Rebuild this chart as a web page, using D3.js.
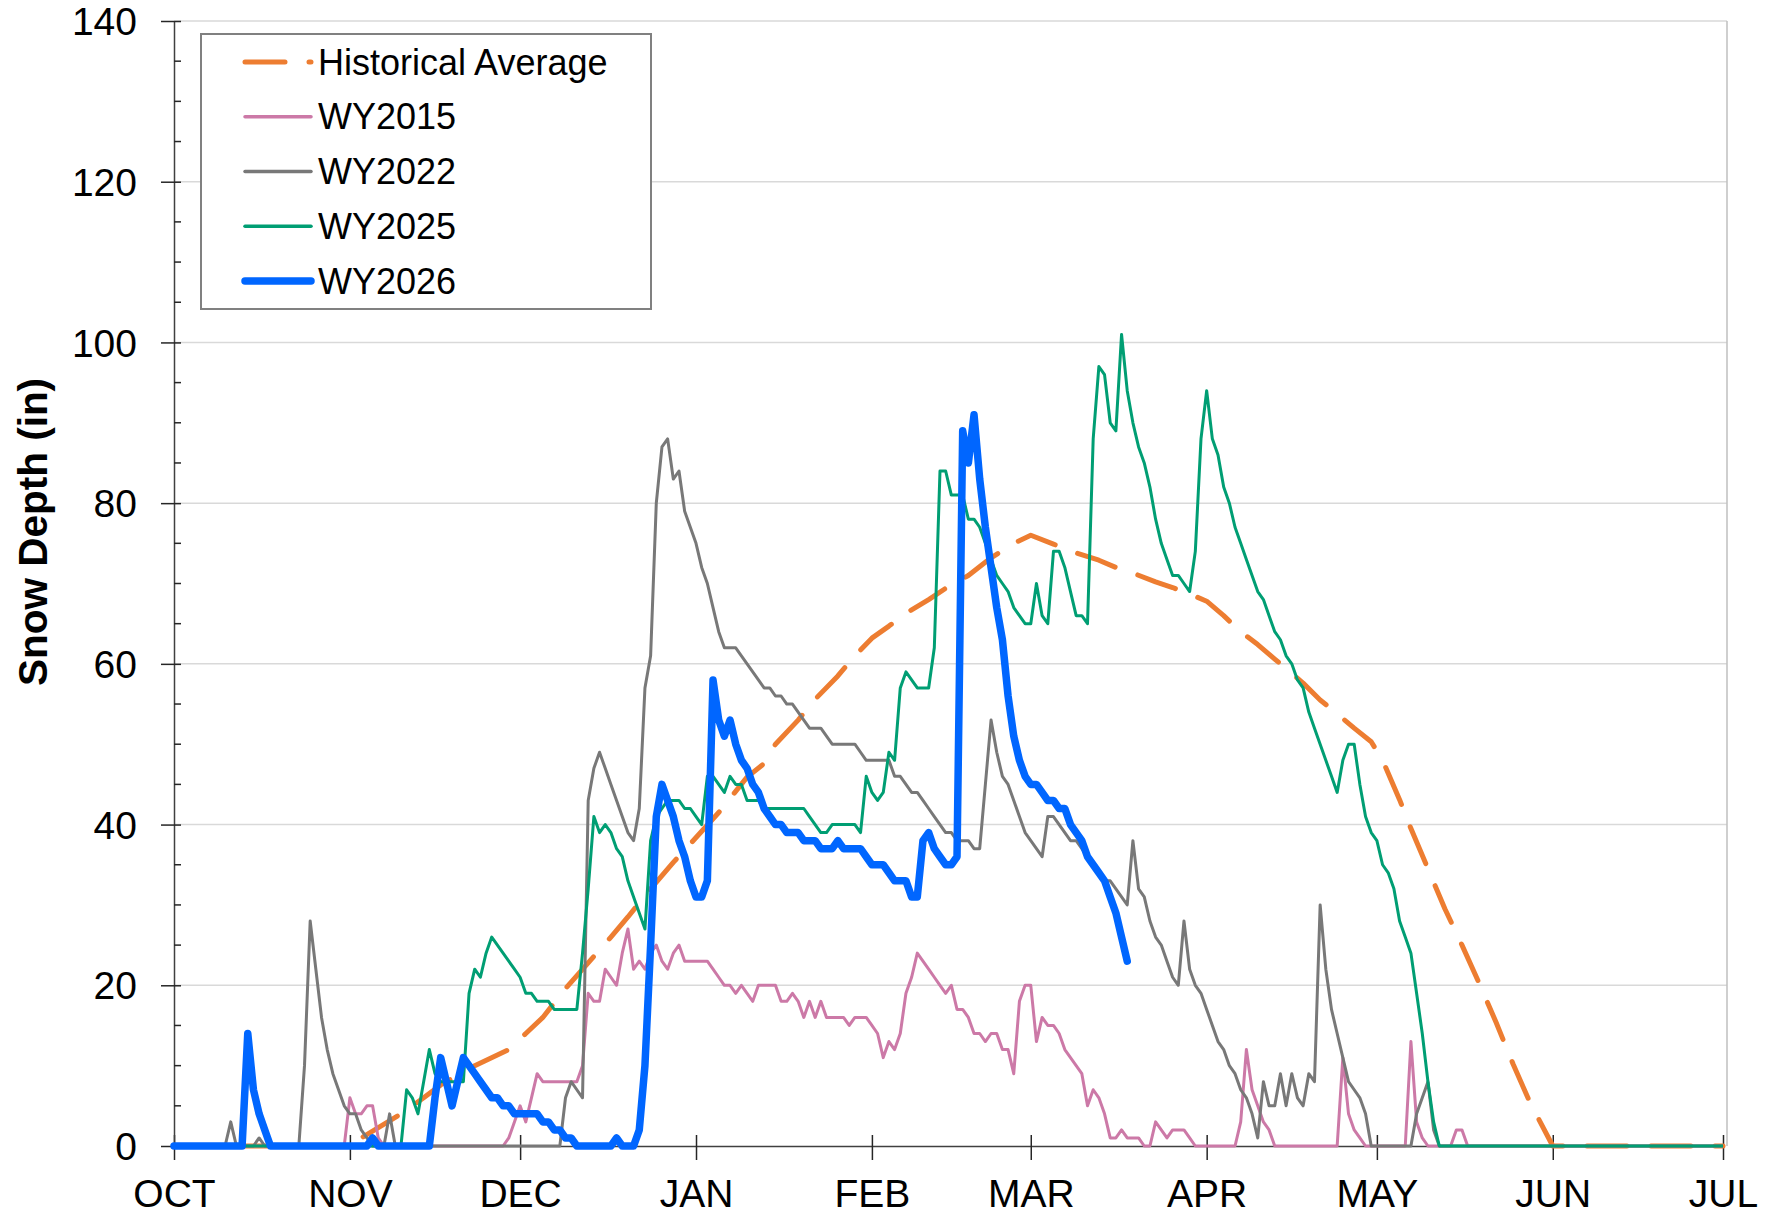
<!DOCTYPE html>
<html>
<head>
<meta charset="utf-8">
<script src="https://cdn.jsdelivr.net/npm/d3@7"></script>
<style>
  html, body { margin: 0; padding: 0; background: #fff; }
  svg text { font-family: "Liberation Sans", Arial, sans-serif; fill: #000; }
</style>
</head>
<body>
<svg id="chart" width="1773" height="1216"></svg>
<script>
// water year axis: Oct 1 -> Jul 1, points are [day since Oct 1, snow depth in]
const monthLabels = ["OCT", "NOV", "DEC", "JAN", "FEB", "MAR", "APR", "MAY", "JUN", "JUL"];
const yTicks = [0, 20, 40, 60, 80, 100, 120, 140];

const historicalAverage = [
  [0,0],[31,0],[33,1],[40,4],[44,6],[47,7.6],[53,10],[59,12],[62,14],[65,16],[69,19.6],[74,23.6],
  [77,26],[80,28.5],[84,32],[88,35.3],[91,37.6],[96,41.5],[101,45.9],[104,47.6],[106,50],[110,53],
  [113,55.6],[117,58.5],[120,61],[123,63.2],[126,64.7],[129,66.3],[133,68],[136,69.4],[140,71],
  [144,73.2],[148,75],[151,76],[155,74.9],[159,73.8],[163,72.9],[166,72],[169,71.3],[173,70.2],
  [176,69.5],[180,68.4],[182,67.8],[185,66],[188,64],[191,62.4],[194,60.6],[197,58.8],[199,57.6],
  [202,55.5],[205,53.8],[208,52],[211,50.3],[213,48],[216,43.1],[218,39.5],[221,34.5],[224,29.5],
  [227,25],[230,20.3],[233,15.4],[236,10.2],[239,5.4],[243,0],[273,0]
];

const wy2015 = [
  [0,0],[30,0],[31,6],[32,4],[33,4],[34,5],[35,5],[36,1],[37,0],[58,0],[59,1],[60,3],[61,5],[62,3],
  [63,6],[64,9],[65,8],[71,8],[72,10],[73,19],[74,18],[75,18],[76,22],[77,21],[78,20],[79,24],[80,27],
  [81,22],[82,23],[83,22],[84,24],[85,25],[86,23],[87,22],[88,24],[89,25],[90,23],[94,23],[95,22],
  [96,21],[97,20],[98,20],[99,19],[100,20],[101,19],[102,18],[103,20],[106,20],[107,18],[108,18],
  [109,19],[110,18],[111,16],[112,18],[113,16],[114,18],[115,16],[118,16],[119,15],[120,16],[122,16],
  [123,15],[124,14],[125,11],[126,13],[127,12],[128,14],[129,19],[130,21],[131,24],[132,23],[133,22],
  [134,21],[135,20],[136,19],[137,20],[138,17],[139,17],[140,16],[141,14],[142,14],[143,13],[144,14],
  [145,14],[146,12],[147,12],[148,9],[149,18],[150,20],[151,20],[152,13],[153,16],[154,15],[155,15],
  [156,14],[157,12],[158,11],[159,10],[160,9],[161,5],[162,7],[163,6],[164,4],[165,1],[166,1],[167,2],
  [168,1],[170,1],[171,0],[172,0],[173,3],[174,2],[175,1],[176,2],[178,2],[179,1],[180,0],[187,0],
  [188,3],[189,12],[190,7],[191,5],[192,3],[193,2],[194,0],[205,0],[206,11],[207,4],[208,2],[209,1],
  [210,0],[217,0],[218,13],[219,3],[220,1],[221,0],[225,0],[226,2],[227,2],[228,0],[273,0]
];

const wy2022 = [
  [0,0],[9,0],[10,3],[11,0],[14,0],[15,1],[16,0],[22,0],[23,10],[24,28],[25,22],[26,16],[27,12],
  [28,9],[29,7],[30,5],[31,4],[32,4],[33,2],[34,1],[35,0],[37,0],[38,4],[39,0],[68,0],[69,6],[70,8],
  [71,7],[72,6],[73,43],[74,47],[75,49],[76,47],[77,45],[78,43],[79,41],[80,39],[81,38],[82,42],
  [83,57],[84,61],[85,80],[86,87],[87,88],[88,83],[89,84],[90,79],[91,77],[92,75],[93,72],[94,70],
  [95,67],[96,64],[97,62],[99,62],[100,61],[101,60],[102,59],[103,58],[104,57],[105,57],[106,56],
  [107,56],[108,55],[109,55],[110,54],[111,53],[112,52],[114,52],[115,51],[116,50],[120,50],[121,49],
  [122,48],[126,48],[127,46],[128,46],[129,45],[130,44],[131,44],[132,43],[133,42],[134,41],[135,40],
  [136,39],[137,39],[138,38],[140,38],[141,37],[142,37],[143,45],[144,53],[145,49],[146,46],[147,45],
  [148,43],[149,41],[150,39],[151,38],[152,37],[153,36],[154,41],[155,41],[156,40],[157,39],[158,38],
  [159,38],[160,37],[161,36],[162,35],[163,34],[164,33],[165,33],[166,32],[167,31],[168,30],[169,38],
  [170,32],[171,31],[172,28],[173,26],[174,25],[175,23],[176,21],[177,20],[178,28],[179,22],[180,20],
  [181,19],[182,17],[183,15],[184,13],[185,12],[186,10],[187,9],[188,7],[189,6],[190,4],[191,1],
  [192,8],[193,5],[194,5],[195,9],[196,5],[197,9],[198,6],[199,5],[200,9],[201,8],[202,30],[203,22],
  [204,17],[205,14],[206,11],[207,8],[208,7],[209,6],[210,4],[211,0],[218,0],[219,4],[220,6],[221,8],
  [222,2],[223,0],[273,0]
];

const wy2025 = [
  [0,0],[40,0],[41,7],[42,6],[43,4],[44,8],[45,12],[46,9],[47,8],[51,8],[52,19],[53,22],[54,21],
  [55,24],[56,26],[57,25],[58,24],[59,23],[60,22],[61,21],[62,19],[63,19],[64,18],[66,18],[67,17],
  [71,17],[72,24],[73,32],[74,41],[75,39],[76,40],[77,39],[78,37],[79,36],[80,33],[81,31],[82,29],
  [83,27],[84,38],[85,41],[86,42],[87,43],[89,43],[90,42],[91,42],[92,41],[93,40],[94,46],[95,46],
  [96,45],[97,44],[98,46],[99,45],[100,45],[101,43],[103,43],[104,42],[111,42],[112,41],[113,40],
  [114,39],[115,39],[116,40],[120,40],[121,39],[122,46],[123,44],[124,43],[125,44],[126,49],[127,48],
  [128,57],[129,59],[130,58],[131,57],[133,57],[134,62],[135,84],[136,84],[137,81],[139,81],[140,78],
  [141,78],[142,77],[143,75],[144,73],[145,71],[146,70],[147,69],[148,67],[149,66],[150,65],[151,65],
  [152,70],[153,66],[154,65],[155,74],[156,74],[157,72],[158,69],[159,66],[160,66],[161,65],[162,88],
  [163,97],[164,96],[165,90],[166,89],[167,101],[168,94],[169,90],[170,87],[171,85],[172,82],[173,78],
  [174,75],[175,73],[176,71],[177,71],[178,70],[179,69],[180,74],[181,88],[182,94],[183,88],[184,86],
  [185,82],[186,80],[187,77],[188,75],[189,73],[190,71],[191,69],[192,68],[193,66],[194,64],[195,63],
  [196,61],[197,60],[198,58],[199,57],[200,54],[201,52],[202,50],[203,48],[204,46],[205,44],[206,48],
  [207,50],[208,50],[209,45],[210,41],[211,39],[212,38],[213,35],[214,34],[215,32],[216,28],[217,26],
  [218,24],[219,19],[220,14],[221,8],[222,3],[223,0],[273,0]
];

const wy2026 = [
  [0,0],[12,0],[13,14],[14,7],[15,4],[16,2],[17,0],[34,0],[35,1],[36,0],[45,0],[46,6],[47,11],[48,8],
  [49,5],[50,8],[51,11],[52,10],[53,9],[54,8],[55,7],[56,6],[57,6],[58,5],[59,5],[60,4],[64,4],[65,3],
  [66,3],[67,2],[68,2],[69,1],[70,1],[71,0],[77,0],[78,1],[79,0],[81,0],[82,2],[83,10],[84,25],[85,41],
  [86,45],[87,43],[88,41],[89,38],[90,36],[91,33],[92,31],[93,31],[94,33],[95,58],[96,53],[97,51],
  [98,53],[99,50],[100,48],[101,47],[102,45],[103,44],[104,42],[105,41],[106,40],[107,40],[108,39],
  [109,39],[110,39],[111,38],[112,38],[113,38],[114,37],[115,37],[116,37],[117,38],[118,37],[119,37],
  [120,37],[121,37],[122,36],[123,35],[124,35],[125,35],[126,34],[127,33],[128,33],[129,33],[130,31],
  [131,31],[132,38],[133,39],[134,37],[135,36],[136,35],[137,35],[138,36],[139,89],[140,85],[141,91],
  [142,83],[143,77],[144,72],[145,67],[146,63],[147,56],[148,51],[149,48],[150,46],[151,45],[152,45],
  [153,44],[154,43],[155,43],[156,42],[157,42],[158,40],[159,39],[160,38],[161,36],[162,35],[163,34],
  [164,33],[165,31],[166,29],[167,26],[168,23]
];

const seriesNames = ["Historical Average", "WY2015", "WY2022", "WY2025", "WY2026"];
const seriesData = [historicalAverage, wy2015, wy2022, wy2025, wy2026];
const seriesStyle = [
  { color: "#ed7d31", width: 5, dash: "40,24", cap: "round" },
  { color: "#cc79a7", width: 3, dash: null, cap: "butt" },
  { color: "#787878", width: 3, dash: null, cap: "butt" },
  { color: "#009e73", width: 3, dash: null, cap: "butt" },
  { color: "#0066ff", width: 7.5, dash: null, cap: "round" }
];

const W = 1773, H = 1216;
const plot = { left: 174, right: 1723, top: 21, bottom: 1146, border: 1727 };

const svg = d3.select("#chart");
svg.append("rect").attr("width", W).attr("height", H).attr("fill", "#fff");

const start = new Date(Date.UTC(2025, 9, 1));
const end = new Date(Date.UTC(2026, 6, 1));
const x = d3.scaleUtc().domain([start, end]).range([plot.left, plot.right]);
const y = d3.scaleLinear().domain([0, 140]).range([plot.bottom, plot.top]);
const dayToDate = d => d3.utcDay.offset(start, d);
const monthTicks = d3.utcMonth.range(start, d3.utcDay.offset(end, 1));

// gridlines + right frame
svg.append("g").selectAll("line").data(yTicks.filter(v => v > 0)).join("line")
  .attr("x1", plot.left).attr("x2", plot.border)
  .attr("y1", d => y(d)).attr("y2", d => y(d))
  .attr("stroke", "#d9d9d9").attr("stroke-width", 1.5);
svg.append("line")
  .attr("x1", plot.border).attr("x2", plot.border)
  .attr("y1", plot.top).attr("y2", plot.bottom)
  .attr("stroke", "#bfbfbf").attr("stroke-width", 1.5);

// x axis
const gx = svg.append("g")
  .attr("transform", `translate(0,${plot.bottom})`)
  .call(d3.axisBottom(x).tickValues(monthTicks).tickFormat((d, i) => monthLabels[i]).tickSizeOuter(0))
  .attr("font-family", null).attr("font-size", null);
gx.select(".domain").attr("stroke", "#404040").attr("stroke-width", 1.5);
gx.selectAll(".tick line").attr("y1", -11).attr("y2", 14).attr("stroke", "#262626").attr("stroke-width", 1.5);
gx.selectAll(".tick text").attr("y", 61).attr("dy", null).attr("font-size", 39).attr("fill", "#000");

// y axis
const gy = svg.append("g")
  .attr("transform", `translate(${plot.left},0)`)
  .call(d3.axisLeft(y).tickValues(yTicks).tickSizeOuter(0))
  .attr("font-family", null).attr("font-size", null);
gy.select(".domain").attr("stroke", "#404040").attr("stroke-width", 1.5);
gy.selectAll(".tick line").attr("x1", -13).attr("x2", 7).attr("stroke", "#262626").attr("stroke-width", 1.5);
gy.selectAll(".tick text").attr("x", -37).attr("dy", "0.35em").attr("font-size", 39).attr("fill", "#000");

const minorTicks = d3.range(5, 140, 5).filter(v => v % 20 !== 0);
svg.append("g").selectAll("line").data(minorTicks).join("line")
  .attr("x1", plot.left).attr("x2", plot.left + 7)
  .attr("y1", d => y(d)).attr("y2", d => y(d))
  .attr("stroke", "#262626").attr("stroke-width", 1.5);

svg.append("text")
  .attr("transform", `translate(47,532) rotate(-90)`)
  .attr("text-anchor", "middle")
  .attr("font-size", 40.5).attr("font-weight", "bold")
  .text("Snow Depth (in)");

// series
const line = d3.line().x(d => x(dayToDate(d[0]))).y(d => y(d[1]));
svg.append("g").selectAll("path").data(seriesData).join("path")
  .attr("d", d => line(d))
  .attr("fill", "none")
  .attr("stroke", (d, i) => seriesStyle[i].color)
  .attr("stroke-width", (d, i) => seriesStyle[i].width)
  .attr("stroke-dasharray", (d, i) => seriesStyle[i].dash)
  .attr("stroke-linecap", (d, i) => seriesStyle[i].cap)
  .attr("stroke-linejoin", "round");

// legend
const legend = svg.append("g");
legend.append("rect")
  .attr("x", 201).attr("y", 34).attr("width", 450).attr("height", 275)
  .attr("fill", "#fff").attr("stroke", "#808080").attr("stroke-width", 2);
const rowY = d3.scalePoint().domain(seriesNames).range([62, 281]);
const rows = legend.selectAll("g.row").data(seriesNames).join("g").attr("class", "row");
rows.append("line")
  .attr("x1", 245).attr("x2", 311)
  .attr("y1", d => rowY(d)).attr("y2", d => rowY(d))
  .attr("stroke", (d, i) => seriesStyle[i].color)
  .attr("stroke-width", (d, i) => seriesStyle[i].width + (i > 0 && i < 4 ? 0.5 : 0))
  .attr("stroke-dasharray", (d, i) => seriesStyle[i].dash)
  .attr("stroke-linecap", "round");
rows.append("text")
  .attr("x", 318).attr("y", d => rowY(d) + 12.5)
  .attr("font-size", 36)
  .text(d => d);
</script>
</body>
</html>
